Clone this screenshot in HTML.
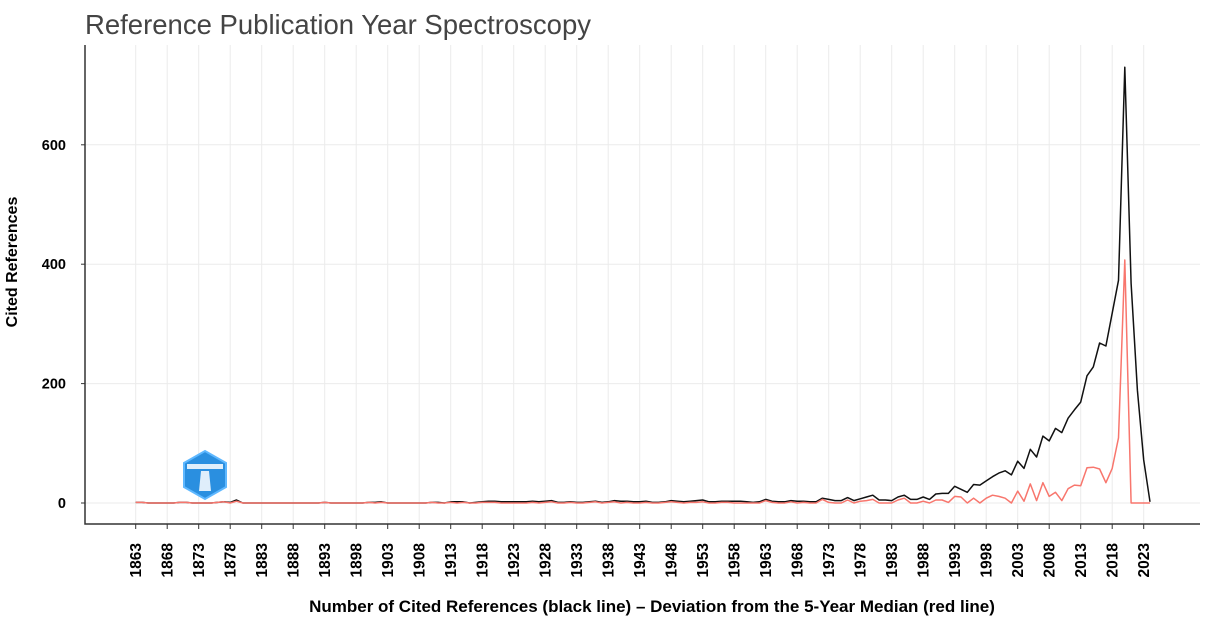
<!DOCTYPE html>
<html><head><meta charset="utf-8"><style>
body{margin:0;background:#fff;}
svg text{font-family:"Liberation Sans",Arial,sans-serif;}
</style></head><body>
<svg id="chart" width="1206" height="619" xmlns="http://www.w3.org/2000/svg">
<text x="85" y="34" font-size="27.5" fill="#444">Reference Publication Year Spectroscopy</text>
<g id="grid"></g>
<g id="yaxis"></g>
<g id="xaxis"></g>
<g id="series"></g>
<text transform="translate(17,262) rotate(-90)" text-anchor="middle" font-size="16" font-weight="bold" fill="#000">Cited References</text>
<text x="652" y="612" text-anchor="middle" font-size="17" font-weight="bold" fill="#000">Number of Cited References (black line) – Deviation from the 5-Year Median (red line)</text>
<g transform="translate(205,475)">
<polygon points="0,-24 21,-12 21,12 0,24 -21,12 -21,-12" fill="#2a8fe0" stroke="#5fb8ff" stroke-width="2"/>
<rect x="-18" y="-11" width="36" height="5" fill="#fff" opacity="0.85"/>
<path d="M-4,-4 L4,-4 L6,16 L-6,16 Z" fill="#fff" opacity="0.85"/>
</g>
</svg>
<script>
const startYear = 1863;
const blackValues = [
1,1,0,0,0,0,0,1,1,0,
0,0,0,1,2,1,5,0,0,0,
0,0,0,0,0,0,0,0,0,0,
1,0,0,0,0,0,0,1,1,2,
0,0,0,0,0,0,0,1,1,0,
2,2,2,0,1,2,3,3,2,2,
2,2,2,3,2,3,4,1,1,2,
1,1,2,3,1,2,4,3,3,2,
2,3,1,1,2,4,3,2,3,4,
5,2,2,3,3,3,3,2,1,2,
6,3,2,2,4,3,3,2,2,8,
6,4,4,9,4,7,10,13,5,5,
4,10,13,6,6,10,6,15,16,16,
28,23,18,31,30,37,44,50,54,47,
70,58,90,77,112,104,125,118,142,156,
169,213,228,268,263,318,373,730,368,189,
72,2];
const redValues = [
1,1,0,0,0,0,0,1,1,0,
0,0,0,1,2,0,3,0,0,0,
0,0,0,0,0,0,0,0,0,0,
1,0,0,0,0,0,0,1,0,1,
0,0,0,0,0,0,0,1,0,0,
1,0,1,0,0,1,1,1,0,0,
0,0,0,1,0,1,2,0,0,1,
0,0,1,2,0,1,2,0,1,0,
0,1,0,0,1,2,1,0,1,1,
2,0,0,1,1,0,0,0,0,0,
4,1,0,0,2,0,1,0,0,6,
1,0,0,5,0,3,4,6,0,0,
0,5,8,0,0,3,0,5,5,1,
11,10,0,8,0,8,13,11,8,0,
20,3,32,4,34,11,18,4,24,30,
29,59,60,57,34,58,109,407,0,0,
0,0];
const yTicks = [0,200,400,600];
const xTickYears = [];
for (let y = 1863; y <= 2023; y += 5) xTickYears.push(y);

const NS = "http://www.w3.org/2000/svg";
const X0 = 135.7, PXY = 6.3;
const xs = yr => X0 + (yr - 1863) * PXY;
const ys = v => 503 - v * 0.597;
function mk(tag, attrs, parent){const e=document.createElementNS(NS,tag);for(const k in attrs)e.setAttribute(k,attrs[k]);parent.appendChild(e);return e;}
const grid=document.getElementById('grid'), ya=document.getElementById('yaxis'), xa=document.getElementById('xaxis'), se=document.getElementById('series');
yTicks.forEach(t=>{
  const g=mk('line',{x1:85,x2:1200,y1:ys(t),y2:ys(t),stroke:'#ebebeb','stroke-width':1},grid);
  
  
  const tk=mk('line',{x1:81,x2:85,y1:ys(t),y2:ys(t),stroke:'#333'},ya);
  
  
  const l=mk('text',{x:66,y:ys(t)+5,'text-anchor':'end','font-size':14.5,'font-weight':'bold',fill:'#000'},ya);
  l.textContent=t;
  
  
});
xTickYears.forEach(yr=>{
  const x=xs(yr);
  const g=mk('line',{x1:x,x2:x,y1:45,y2:524,stroke:'#ebebeb','stroke-width':1},grid);
  
  
  const tk=mk('line',{x1:x,x2:x,y1:524,y2:529,stroke:'#333'},xa);
  
  
  const l=mk('text',{transform:`translate(${x+5.5},543) rotate(-90)`,'text-anchor':'end','font-size':15.5,'font-weight':'bold',fill:'#000'},xa);
  l.textContent=yr;
  
  
});
const ax=mk('path',{d:'M85,45 L85,524 L1200,524',fill:'none',stroke:'#333','stroke-width':1.5},ya);


function line(vals,color,name){
  const d=vals.map((v,i)=>(i?'L':'M')+xs(startYear+i).toFixed(1)+','+ys(v).toFixed(1)).join(' ');
  const p=mk('path',{d:d,fill:'none',stroke:color,'stroke-width':1.5,'stroke-linejoin':'round'},se);
  
  
}
line(blackValues,'#111','cited-references-line');
line(redValues,'#f8766d','median-deviation-line');
</script>
</body></html>
